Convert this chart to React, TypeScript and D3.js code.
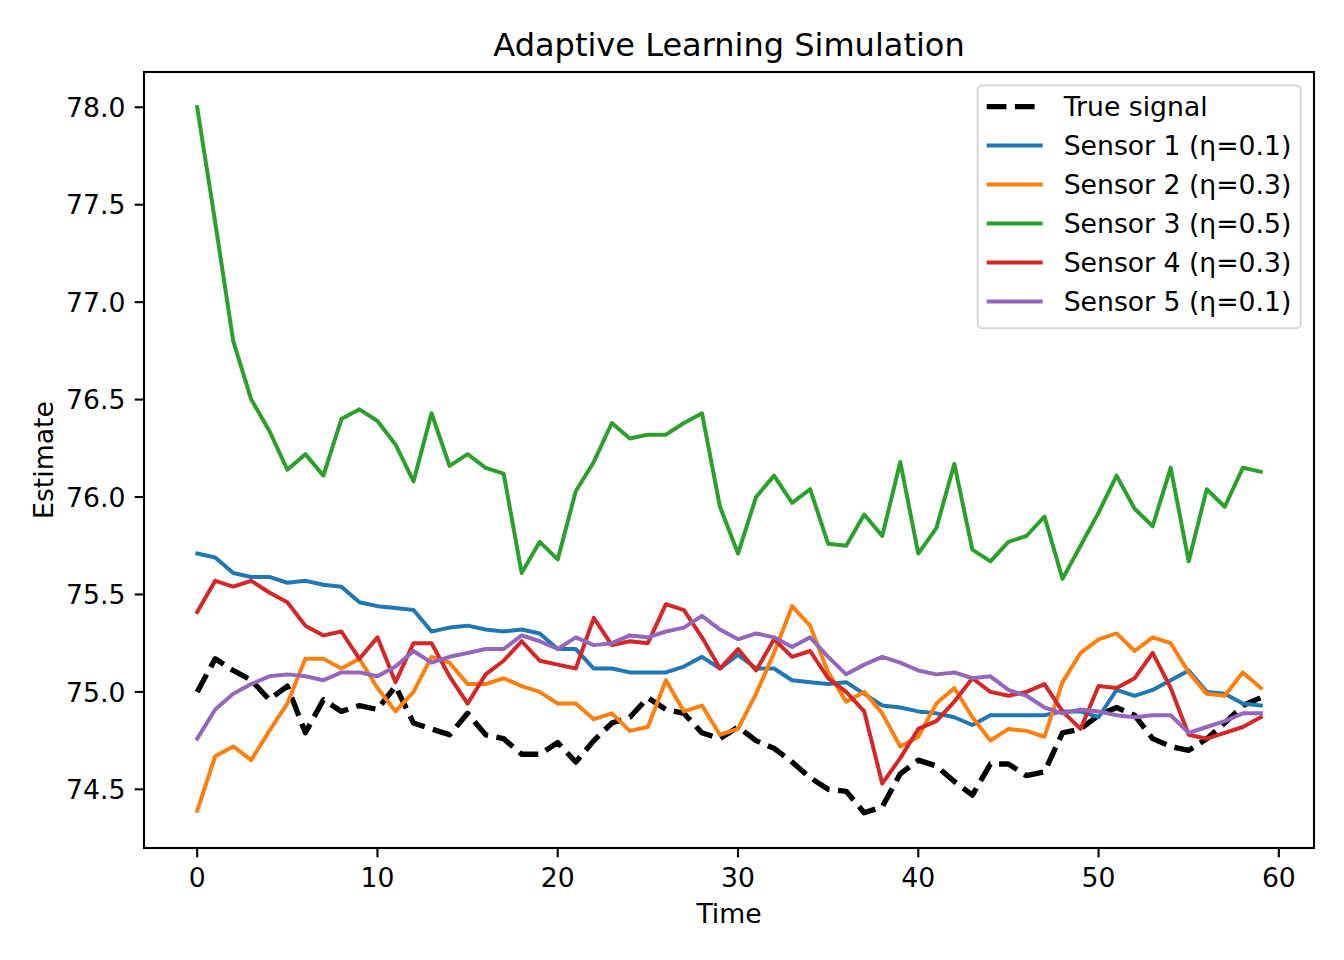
import React from "react";
import * as d3 from "d3";

const trueSignal = [75.00, 75.17, 75.11, 75.06, 74.96, 75.03, 74.79, 74.96, 74.90, 74.93, 74.91, 75.03, 74.84, 74.81, 74.78, 74.89, 74.78, 74.76, 74.68, 74.68, 74.74, 74.64, 74.75, 74.84, 74.87, 74.97, 74.91, 74.89, 74.79, 74.76, 74.82, 74.75, 74.71, 74.64, 74.56, 74.50, 74.49, 74.38, 74.41, 74.58, 74.65, 74.62, 74.54, 74.47, 74.63, 74.63, 74.57, 74.59, 74.79, 74.81, 74.88, 74.92, 74.88, 74.76, 74.72, 74.70, 74.76, 74.84, 74.93, 74.97];
const sensor1 = [75.71, 75.69, 75.61, 75.59, 75.59, 75.56, 75.57, 75.55, 75.54, 75.46, 75.44, 75.43, 75.42, 75.31, 75.33, 75.34, 75.32, 75.31, 75.32, 75.30, 75.22, 75.22, 75.12, 75.12, 75.10, 75.10, 75.10, 75.13, 75.18, 75.12, 75.19, 75.12, 75.12, 75.06, 75.05, 75.04, 75.05, 74.99, 74.93, 74.92, 74.90, 74.89, 74.87, 74.83, 74.88, 74.88, 74.88, 74.88, 74.90, 74.90, 74.87, 75.01, 74.98, 75.01, 75.06, 75.11, 75.00, 74.99, 74.94, 74.93];
const sensor2 = [74.39, 74.67, 74.72, 74.65, 74.80, 74.94, 75.17, 75.17, 75.12, 75.17, 75.02, 74.90, 75.00, 75.18, 75.15, 75.04, 75.04, 75.07, 75.03, 75.00, 74.94, 74.94, 74.86, 74.89, 74.80, 74.82, 75.06, 74.90, 74.93, 74.78, 74.81, 74.99, 75.20, 75.44, 75.34, 75.10, 74.95, 75.00, 74.89, 74.72, 74.77, 74.94, 75.02, 74.87, 74.75, 74.81, 74.80, 74.77, 75.05, 75.20, 75.27, 75.30, 75.21, 75.28, 75.25, 75.10, 74.99, 74.98, 75.10, 75.02];
const sensor3 = [78.00, 77.41, 76.80, 76.50, 76.34, 76.14, 76.22, 76.11, 76.40, 76.45, 76.39, 76.27, 76.08, 76.43, 76.16, 76.22, 76.15, 76.12, 75.61, 75.77, 75.68, 76.03, 76.18, 76.38, 76.30, 76.32, 76.32, 76.38, 76.43, 75.95, 75.71, 76.00, 76.11, 75.97, 76.04, 75.76, 75.75, 75.91, 75.80, 76.18, 75.71, 75.84, 76.17, 75.73, 75.67, 75.77, 75.80, 75.90, 75.58, 75.75, 75.92, 76.11, 75.94, 75.85, 76.15, 75.67, 76.04, 75.95, 76.15, 76.13];
const sensor4 = [75.41, 75.57, 75.54, 75.57, 75.51, 75.46, 75.34, 75.29, 75.31, 75.17, 75.28, 75.05, 75.25, 75.25, 75.08, 74.94, 75.09, 75.16, 75.26, 75.16, 75.14, 75.12, 75.38, 75.24, 75.26, 75.25, 75.45, 75.42, 75.28, 75.12, 75.22, 75.11, 75.27, 75.18, 75.21, 75.07, 75.00, 74.90, 74.53, 74.66, 74.81, 74.85, 74.95, 75.07, 75.00, 74.98, 75.00, 75.04, 74.90, 74.81, 75.03, 75.02, 75.07, 75.20, 75.02, 74.78, 74.76, 74.79, 74.82, 74.87];
const sensor5 = [74.76, 74.91, 74.99, 75.04, 75.08, 75.09, 75.08, 75.06, 75.10, 75.10, 75.08, 75.13, 75.21, 75.15, 75.18, 75.20, 75.22, 75.22, 75.29, 75.26, 75.22, 75.28, 75.24, 75.25, 75.29, 75.28, 75.31, 75.33, 75.39, 75.32, 75.27, 75.30, 75.28, 75.23, 75.28, 75.18, 75.09, 75.14, 75.18, 75.15, 75.11, 75.09, 75.10, 75.07, 75.08, 75.01, 74.98, 74.92, 74.89, 74.91, 74.90, 74.88, 74.87, 74.88, 74.88, 74.79, 74.82, 74.85, 74.89, 74.89];

const seriesLabels = ["Sensor 1 (η=0.1)", "Sensor 2 (η=0.3)", "Sensor 3 (η=0.5)", "Sensor 4 (η=0.3)", "Sensor 5 (η=0.1)"];
const seriesColors = ["#1f77b4", "#ff7f0e", "#2ca02c", "#d62728", "#9467bd"];
const sensors = [sensor1, sensor2, sensor3, sensor4, sensor5];
const xTicks = [0, 10, 20, 30, 40, 50, 60];
const yTicks = [74.5, 75.0, 75.5, 76.0, 76.5, 77.0, 77.5, 78.0];

const W = 1344, H = 960;
const L = 144, R = 1314, T = 72, B = 848;
const FONT = "DejaVu Sans, Liberation Sans, sans-serif";
const FS = 26.67;

export default function App() {
  const n = trueSignal.length;
  const xMin = 0, xMax = n - 1;
  const xm = (xMax - xMin) * 0.05;
  const x = d3.scaleLinear().domain([xMin - xm, xMax + xm]).range([L, R]);
  const all = [...trueSignal, ...sensors.flat()];
  const yLo = d3.min(all)!, yHi = d3.max(all)!;
  const ym = (yHi - yLo) * 0.05;
  const y = d3.scaleLinear().domain([yLo - ym, yHi + ym]).range([B, T]);
  const line = d3.line<number>().x((_, i) => x(i)).y((v) => y(v));

  const legX = R - 13.3 - 323;
  const legY = T + 13.3;
  const rowY = (k: number) => legY + 31 + k * 39;

  return (
    <svg width={W} height={H} style={{ position: "absolute", left: 0, top: 0, background: "#fff" }} fontFamily={FONT}>
      <rect x={0} y={0} width={W} height={H} fill="#fff" />
      <defs>
        <clipPath id="plotClip">
          <rect x={L} y={T} width={R - L} height={B - T} />
        </clipPath>
      </defs>
      <g clipPath="url(#plotClip)" fill="none" strokeLinejoin="round">
        <path d={line(trueSignal)!} stroke="#000" strokeWidth={5.33} strokeDasharray="19.7 8.5" />
        {sensors.map((s, k) => (
          <path key={k} d={line(s)!} stroke={seriesColors[k]} strokeWidth={4} strokeLinecap="square" />
        ))}
      </g>
      <rect x={L} y={T} width={R - L} height={B - T} fill="none" stroke="#000" strokeWidth={2.1} />
      {xTicks.map((t) => (
        <g key={t}>
          <line x1={x(t)} x2={x(t)} y1={B} y2={B + 9.3} stroke="#000" strokeWidth={2.1} />
          <text x={x(t)} y={887} fontSize={FS} textAnchor="middle">{t}</text>
        </g>
      ))}
      {yTicks.map((t) => (
        <g key={t}>
          <line x1={L - 9.3} x2={L} y1={y(t)} y2={y(t)} stroke="#000" strokeWidth={2.1} />
          <text x={125.4} y={y(t) + 9.7} fontSize={FS} textAnchor="end">{t.toFixed(1)}</text>
        </g>
      ))}
      <text x={(L + R) / 2} y={56} fontSize={32} textAnchor="middle">Adaptive Learning Simulation</text>
      <text x={(L + R) / 2} y={923} fontSize={FS} textAnchor="middle">Time</text>
      <text transform={`translate(53,${(T + B) / 2}) rotate(-90)`} fontSize={FS} textAnchor="middle">Estimate</text>
      <rect x={legX} y={legY} width={323} height={243} rx={5} fill="#fff" fillOpacity={0.8} stroke="#cccccc" strokeOpacity={0.8} strokeWidth={2} />
      <line x1={legX + 9} x2={legX + 65} y1={rowY(0) - 9.7} y2={rowY(0) - 9.7} stroke="#000" strokeWidth={5.33} strokeDasharray="19.7 8.5" />
      <text x={legX + 86} y={rowY(0)} fontSize={FS}>True signal</text>
      {seriesLabels.map((lab, k) => (
        <g key={lab}>
          <line x1={legX + 9} x2={legX + 65} y1={rowY(k + 1) - 9.7} y2={rowY(k + 1) - 9.7} stroke={seriesColors[k]} strokeWidth={4} />
          <text x={legX + 86} y={rowY(k + 1)} fontSize={FS}>{lab}</text>
        </g>
      ))}
    </svg>
  );
}
